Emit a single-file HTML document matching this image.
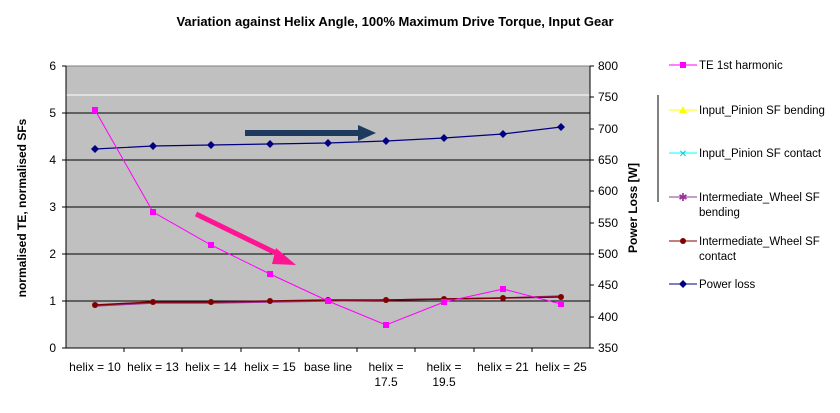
<!DOCTYPE html>
<html><head><meta charset="utf-8"><style>
body{margin:0;background:#fff;}
svg text{font-family:"Liberation Sans",Arial,sans-serif;}
</style></head><body>
<svg width="840" height="408" viewBox="0 0 840 408" xmlns="http://www.w3.org/2000/svg">
<text x="395" y="26" font-size="13" font-weight="bold" text-anchor="middle">Variation against Helix Angle, 100% Maximum Drive Torque, Input Gear</text>
<rect x="66" y="66" width="524" height="282" fill="#c0c0c0" stroke="#808080"/>
<line x1="66" y1="95" x2="590" y2="95" stroke="#fff" stroke-width="1"/>
<g stroke="#000" stroke-width="1">
<line x1="66" y1="113" x2="590" y2="113"/>
<line x1="66" y1="160" x2="590" y2="160"/>
<line x1="66" y1="207" x2="590" y2="207"/>
<line x1="66" y1="254" x2="590" y2="254"/>
<line x1="66" y1="301" x2="590" y2="301"/>
<line x1="66" y1="348" x2="590" y2="348"/>
<line x1="66" y1="66" x2="66" y2="348"/>
<line x1="590" y1="66" x2="590" y2="348"/>
</g>
<g stroke="#000">
<line x1="62" y1="66" x2="66" y2="66"/><line x1="62" y1="113" x2="66" y2="113"/><line x1="62" y1="160" x2="66" y2="160"/><line x1="62" y1="207" x2="66" y2="207"/><line x1="62" y1="254" x2="66" y2="254"/><line x1="62" y1="301" x2="66" y2="301"/><line x1="62" y1="348" x2="66" y2="348"/>
<line x1="590" y1="66" x2="594" y2="66"/><line x1="590" y1="97" x2="594" y2="97"/><line x1="590" y1="129" x2="594" y2="129"/><line x1="590" y1="160" x2="594" y2="160"/><line x1="590" y1="191" x2="594" y2="191"/><line x1="590" y1="223" x2="594" y2="223"/><line x1="590" y1="254" x2="594" y2="254"/><line x1="590" y1="285" x2="594" y2="285"/><line x1="590" y1="317" x2="594" y2="317"/><line x1="590" y1="348" x2="594" y2="348"/>
<line x1="124" y1="348" x2="124" y2="352"/><line x1="182" y1="348" x2="182" y2="352"/><line x1="241" y1="348" x2="241" y2="352"/><line x1="299" y1="348" x2="299" y2="352"/><line x1="357" y1="348" x2="357" y2="352"/><line x1="415" y1="348" x2="415" y2="352"/><line x1="474" y1="348" x2="474" y2="352"/><line x1="532" y1="348" x2="532" y2="352"/>
</g>
<g font-size="12" text-anchor="end">
<text x="56" y="70">6</text><text x="56" y="117">5</text><text x="56" y="164">4</text><text x="56" y="211">3</text><text x="56" y="258">2</text><text x="56" y="305">1</text><text x="56" y="352">0</text>
</g>
<g font-size="12">
<text x="598" y="70">800</text><text x="598" y="101">750</text><text x="598" y="133">700</text><text x="598" y="164">650</text><text x="598" y="195">600</text><text x="598" y="227">550</text><text x="598" y="258">500</text><text x="598" y="289">450</text><text x="598" y="321">400</text><text x="598" y="352">350</text>
</g>
<text transform="translate(26,208) rotate(-90)" font-size="12" font-weight="bold" text-anchor="middle">normalised TE, normalised SFs</text>
<text transform="translate(637,208) rotate(-90)" font-size="12" font-weight="bold" text-anchor="middle">Power Loss [W]</text>
<g font-size="12" text-anchor="middle">
<text x="95" y="371">helix = 10</text><text x="153" y="371">helix = 13</text><text x="211" y="371">helix = 14</text><text x="270" y="371">helix = 15</text><text x="328" y="371">base line</text>
<text x="386" y="371">helix =</text><text x="386" y="386">17.5</text>
<text x="444" y="371">helix =</text><text x="444" y="386">19.5</text>
<text x="503" y="371">helix = 21</text><text x="561" y="371">helix = 25</text>
</g>
<!-- SF lines -->
<polyline fill="none" stroke="#993399" stroke-width="1.5" points="95,306 153,303 211,303 270,302 328,301 386,300 444,299 503,298 561,296"/>
<polyline fill="none" stroke="#800000" stroke-width="1.5" points="95,305 153,302 211,302 270,301 328,300 386,300 444,299 503,298 561,297"/>
<g fill="#800000">
<circle cx="95" cy="305" r="3"/><circle cx="153" cy="302" r="3"/><circle cx="211" cy="302" r="3"/><circle cx="270" cy="301" r="3"/><circle cx="328" cy="300" r="3"/><circle cx="386" cy="300" r="3"/><circle cx="444" cy="299" r="3"/><circle cx="503" cy="298" r="3"/><circle cx="561" cy="297" r="3"/>
</g>
<!-- power loss -->
<polyline fill="none" stroke="#000080" stroke-width="1.2" points="95,149 153,146 211,145 270,144 328,143 386,141 444,138 503,134 561,127"/>
<g fill="#000080">
<path d="M95,145 l4,4 -4,4 -4,-4z"/><path d="M153,142 l4,4 -4,4 -4,-4z"/><path d="M211,141 l4,4 -4,4 -4,-4z"/><path d="M270,140 l4,4 -4,4 -4,-4z"/><path d="M328,139 l4,4 -4,4 -4,-4z"/><path d="M386,137 l4,4 -4,4 -4,-4z"/><path d="M444,134 l4,4 -4,4 -4,-4z"/><path d="M503,130 l4,4 -4,4 -4,-4z"/><path d="M561,123 l4,4 -4,4 -4,-4z"/>
</g>
<!-- TE -->
<polyline fill="none" stroke="#ff00ff" stroke-width="1" points="95,110 153,212 211,245 270,274 328,301 386,325 444,302 503,289 561,304"/>
<g fill="#ff00ff">
<rect x="92" y="107" width="6" height="6"/><rect x="150" y="209" width="6" height="6"/><rect x="208" y="242" width="6" height="6"/><rect x="267" y="271" width="6" height="6"/><rect x="325" y="298" width="6" height="6"/><rect x="383" y="322" width="6" height="6"/><rect x="441" y="299" width="6" height="6"/><rect x="500" y="286" width="6" height="6"/><rect x="558" y="301" width="6" height="6"/>
</g>
<!-- arrows -->
<line x1="245" y1="133" x2="360" y2="133" stroke="#1f3a5f" stroke-width="6"/>
<path d="M358,125 L376,133 L358,141 z" fill="#1f3a5f"/>
<line x1="196" y1="214" x2="282" y2="256" stroke="#ff1493" stroke-width="5"/>
<path d="M276,248 L296,265 L272,264 z" fill="#ff1493"/>
<!-- legend -->
<line x1="658" y1="95" x2="658" y2="202" stroke="#000"/>
<g font-size="11.5">
<line x1="669" y1="65" x2="697" y2="65" stroke="#ff00ff"/><rect x="680" y="62" width="6" height="6" fill="#ff00ff"/>
<text x="699" y="69">TE 1st harmonic</text>
<line x1="669" y1="110" x2="697" y2="110" stroke="#ffff00"/><path d="M683,106 l4,7 -8,0z" fill="#ffff00"/>
<text x="699" y="114">Input_Pinion SF bending</text>
<line x1="669" y1="153" x2="697" y2="153" stroke="#00ffff"/><text x="683" y="157" font-size="10" fill="#00cccc" text-anchor="middle">✕</text>
<text x="699" y="157">Input_Pinion SF contact</text>
<line x1="669" y1="197" x2="697" y2="197" stroke="#993399"/><text x="683" y="201" font-size="11" fill="#993399" text-anchor="middle">✱</text>
<text x="699" y="201">Intermediate_Wheel SF</text><text x="699" y="216">bending</text>
<line x1="669" y1="241" x2="697" y2="241" stroke="#800000"/><circle cx="683" cy="241" r="3" fill="#800000"/>
<text x="699" y="245">Intermediate_Wheel SF</text><text x="699" y="260">contact</text>
<line x1="669" y1="284" x2="697" y2="284" stroke="#000080"/><path d="M683,280 l4,4 -4,4 -4,-4z" fill="#000080"/>
<text x="699" y="288">Power loss</text>
</g>
</svg>
</body></html>
